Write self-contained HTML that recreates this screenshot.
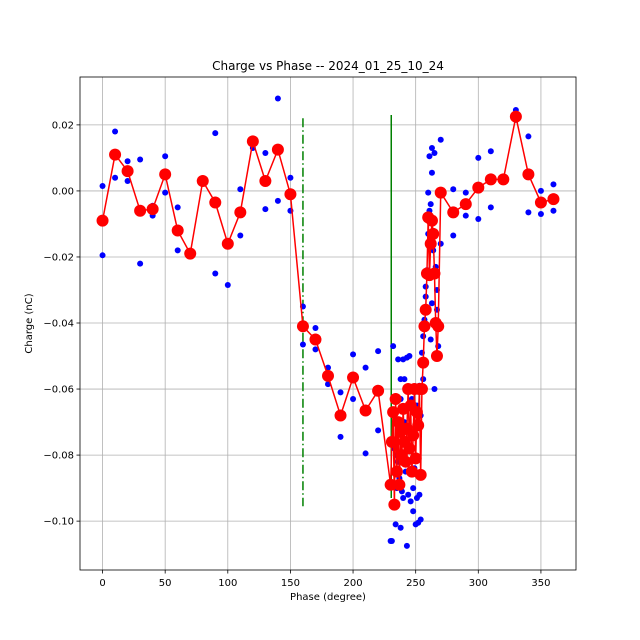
<!DOCTYPE html>
<html><head><meta charset="utf-8"><style>
body{margin:0;background:#fff}
svg{display:block;font-family:"DejaVu Sans","Liberation Sans",sans-serif}
</style></head><body>
<svg id="chart" width="640" height="640" viewBox="0 0 640 640"></svg>
<script>
const xTicks=[0,50,100,150,200,250,300,350];
const yTicks=[0.02,0,-0.02,-0.04,-0.06,-0.08,-0.1];
const yTickLabels=["0.02","0.00","−0.02","−0.04","−0.06","−0.08","−0.10"];
const redX=[0,10,20,30,40,50,60,70,80,90,100,110,120,130,140,150,160,170,180,190,200,210,220,230,231,232,233,234,235,236,237,238,239,240,241,242,243,244,245,246,247,248,249,250,251,252,253,254,255,256,257,258,259,260,261,262,263,264,265,266,267,268,270,280,290,300,310,320,330,340,350,360];
const redY=[-0.009,0.011,0.006,-0.006,-0.0055,0.005,-0.012,-0.019,0.003,-0.0035,-0.016,-0.0065,0.015,0.003,0.0125,-0.001,-0.041,-0.045,-0.056,-0.068,-0.0565,-0.0665,-0.0605,-0.089,-0.076,-0.067,-0.095,-0.063,-0.085,-0.070,-0.089,-0.073,-0.080,-0.066,-0.076,-0.082,-0.072,-0.060,-0.078,-0.065,-0.085,-0.074,-0.060,-0.081,-0.067,-0.071,-0.060,-0.086,-0.060,-0.052,-0.041,-0.036,-0.025,-0.008,-0.0255,-0.016,-0.009,-0.013,-0.025,-0.040,-0.050,-0.041,-0.0005,-0.0065,-0.004,0.001,0.0035,0.0035,0.0225,0.005,-0.0035,-0.0025];
const blueX=[0,0,10,10,20,20,30,30,40,40,50,50,60,60,80,90,90,100,110,110,120,130,130,140,140,150,150,160,160,170,170,180,180,190,190,200,200,210,210,220,220,232,236,238,240,241,243,245,230,231,234,238,243,246,248,250,252,254,235,240,244,248,251,253,249,242,236,238,247,251,254,253,256,255,257,256,258,259,258,260,261,260,262,263,263,261,265,264,266,267,267,268,265,262,263,270,270,280,280,290,290,300,300,310,310,330,330,340,340,350,350,360,360,233,237,241,245,239,235];
const blueY=[0.0015,-0.0195,0.018,0.004,0.009,0.003,0.0095,-0.022,-0.0045,-0.0075,0.0105,-0.0005,-0.005,-0.018,0.0025,0.0175,-0.025,-0.0285,0.0005,-0.0135,0.013,0.0115,-0.0055,0.028,-0.003,0.004,-0.006,-0.035,-0.0465,-0.0415,-0.048,-0.0535,-0.0585,-0.0745,-0.061,-0.0495,-0.063,-0.0535,-0.0795,-0.0725,-0.0485,-0.047,-0.051,-0.057,-0.051,-0.057,-0.0505,-0.05,-0.106,-0.106,-0.101,-0.102,-0.1075,-0.094,-0.097,-0.101,-0.1005,-0.0995,-0.09,-0.093,-0.092,-0.09,-0.093,-0.092,-0.084,-0.085,-0.082,-0.063,-0.063,-0.065,-0.068,-0.059,-0.057,-0.049,-0.039,-0.044,-0.032,-0.024,-0.029,-0.013,-0.006,-0.0005,-0.004,0.0055,0.013,0.0105,0.0115,-0.018,-0.023,-0.03,-0.036,-0.047,-0.060,-0.045,-0.034,0.0155,-0.016,0.0005,-0.0135,-0.0005,-0.0075,0.01,-0.0085,0.012,-0.005,0.0245,0.0215,0.0165,-0.0065,0.0,-0.007,0.002,-0.006,-0.078,-0.087,-0.070,-0.075,-0.091,-0.080];
const vLineX=[160,230.5];
const vLineTop=[0.022,0.023];
const vLineBottom=[-0.0955,-0.093];

const L=80,R=576,T=77,B=570,X0=-18,X1=378,Y0=-0.1148,Y1=0.0345;
const sx=v=>L+(v-X0)/(X1-X0)*(R-L);
const sy=v=>B-(v-Y0)/(Y1-Y0)*(B-T);
const svg=document.getElementById('chart');
const NS='http://www.w3.org/2000/svg';
function mk(tag,attrs,parent){const e=document.createElementNS(NS,tag);for(const k in attrs)e.setAttribute(k,attrs[k]);(parent||svg).appendChild(e);return e;}

const grid=mk('g',{});


xTicks.forEach((t,i)=>{
  const x=sx(t);
  const gl=mk('line',{x1:x,x2:x,y1:T,y2:B,stroke:'#b0b0b0','stroke-width':0.8},grid);
  
  
  mk('line',{x1:x,x2:x,y1:B,y2:B+3.5,stroke:'#000','stroke-width':0.8});
  const tx=mk('text',{x:x,y:B+16,'font-size':10,'text-anchor':'middle'});
  tx.textContent=t;
  
  
});
yTicks.forEach((t,i)=>{
  const y=sy(t);
  const gl=mk('line',{x1:L,x2:R,y1:y,y2:y,stroke:'#b0b0b0','stroke-width':0.8},grid);
  
  
  mk('line',{x1:L-3.5,x2:L,y1:y,y2:y,stroke:'#000','stroke-width':0.8});
  const tx=mk('text',{x:L-6,y:y+3.5,'font-size':10,'text-anchor':'end'});
  tx.textContent=yTickLabels[i];
  
  
});

vLineX.forEach((v,i)=>{
  const ln=mk('line',{x1:sx(v),x2:sx(v),y1:sy(vLineTop[i]),y2:sy(vLineBottom[i]),stroke:'green','stroke-width':1.5});
  if(i===0) ln.setAttribute('stroke-dasharray','9 3 1.5 3');
  
  
});

const blue=mk('g',{fill:'#0000ff'});


blueX.forEach((v,i)=>{
  const c=mk('circle',{cx:sx(v),cy:sy(blueY[i]),r:3},blue);
  
  
});

const pts=redX.map((v,i)=>sx(v)+','+sy(redY[i])).join(' ');
const pl=mk('polyline',{points:pts,fill:'none',stroke:'#ff0000','stroke-width':1.5});


const red=mk('g',{fill:'#ff0000'});


redX.forEach((v,i)=>{
  const c=mk('circle',{cx:sx(v),cy:sy(redY[i]),r:6},red);
  
  
});

const frame=mk('rect',{x:L,y:T,width:R-L,height:B-T,fill:'none',stroke:'#000','stroke-width':0.8});



const title=mk('text',{x:(L+R)/2,y:70,'font-size':12,'text-anchor':'middle'});
title.textContent='Charge vs Phase -- 2024_01_25_10_24';


const xl=mk('text',{x:(L+R)/2,y:600,'font-size':10,'text-anchor':'middle'});
xl.textContent='Phase (degree)';


const yl=mk('text',{x:0,y:0,'font-size':10,'text-anchor':'middle',transform:'translate(32,'+((T+B)/2)+') rotate(-90)'});
yl.textContent='Charge (nC)';


</script>
</body></html>
